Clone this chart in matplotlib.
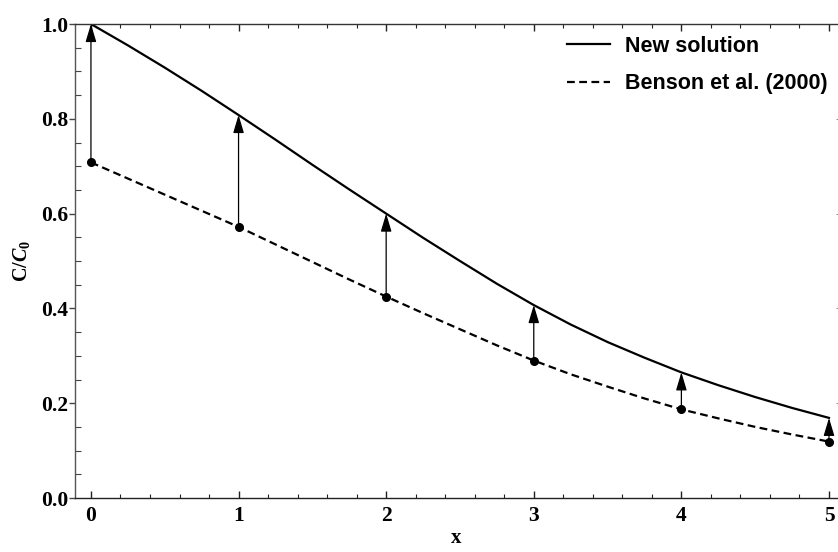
import matplotlib
matplotlib.use("Agg")
import matplotlib.pyplot as plt
from matplotlib.patches import ArrowStyle
from matplotlib.ticker import MultipleLocator

plt.rcParams["mathtext.fontset"] = "custom"
plt.rcParams["mathtext.it"] = "Liberation Serif:italic:bold"
plt.rcParams["mathtext.rm"] = "Liberation Serif:bold"
plt.rcParams["mathtext.bf"] = "Liberation Serif:bold"

# Concentration profiles C/C0 along x
x_curve = [0.0, 0.25, 0.5, 0.75, 1.0, 1.25, 1.5, 1.75, 2.0, 2.25, 2.5,
           2.75, 3.0, 3.25, 3.5, 3.75, 4.0, 4.25, 4.5, 4.75, 5.0]
new_solution = [1.000, 0.955, 0.908, 0.859, 0.808, 0.756, 0.703, 0.651,
                0.600, 0.549, 0.500, 0.452, 0.407, 0.366, 0.329, 0.296,
                0.265, 0.238, 0.213, 0.190, 0.169]
benson_2000 = [0.708, 0.674, 0.640, 0.606, 0.572, 0.535, 0.498, 0.461,
               0.425, 0.390, 0.356, 0.322, 0.290, 0.261, 0.235, 0.210,
               0.187, 0.168, 0.150, 0.134, 0.119]

# Sampled positions where the two solutions are compared
x_marks = [0, 1, 2, 3, 4, 5]
benson_marks = [0.708, 0.572, 0.425, 0.290, 0.187, 0.119]
new_marks = [1.000, 0.808, 0.600, 0.407, 0.265, 0.169]

y_ticks = [0.0, 0.2, 0.4, 0.6, 0.8, 1.0]
legend_labels = ["New solution", "Benson et al. (2000)"]

fig = plt.figure(figsize=(8.38, 5.52), dpi=100)
ax = fig.add_axes([75 / 838, 54 / 552, 763 / 838, 474 / 552])

ax.plot(x_curve, new_solution, color="black", lw=1.6, label=legend_labels[0])
ax.plot(x_curve, benson_2000, color="black", lw=1.6, dashes=(3.5, 2.0),
        label=legend_labels[1])
ax.plot(x_marks, benson_marks, "o", color="black", ms=5.5, zorder=4)

style = ArrowStyle("-|>", head_length=1.1, head_width=0.33)
for xm, y0, y1 in zip(x_marks, benson_marks, new_marks):
    ax.annotate("", xy=(xm, y1), xytext=(xm, y0),
                arrowprops=dict(arrowstyle=style, mutation_scale=10,
                                color="black", lw=0.9, shrinkA=0, shrinkB=0),
                zorder=5)

ax.set_xlim(-0.108, 5.061)
ax.set_ylim(0.0, 1.0)

ax.xaxis.set_major_locator(MultipleLocator(1))
ax.xaxis.set_minor_locator(MultipleLocator(0.2))
ax.yaxis.set_major_locator(MultipleLocator(0.2))
ax.yaxis.set_minor_locator(MultipleLocator(0.05))

ax.spines["right"].set_visible(False)
ax.spines["left"].set_color("#555555")
ax.spines["bottom"].set_color("#222222")
ax.spines["top"].set_color("#333333")
for s in ("left", "bottom", "top"):
    ax.spines[s].set_linewidth(1.0)

tick_font = dict(family="Liberation Serif", weight="bold", size=15.5)
ax.tick_params(axis="x", which="major", direction="in", length=5, width=1,
               top=True, pad=6, colors="#222222")
ax.tick_params(axis="x", which="minor", direction="in", length=3, width=0.8,
               top=True, colors="#222222")
ax.tick_params(axis="y", which="major", direction="out", length=4, width=1,
               pad=1, colors="#444444")
ax.tick_params(axis="y", which="minor", direction="in", length=4, width=0.8,
               colors="#444444")
ax.set_xticks(x_marks)
ax.set_xticklabels([str(v) for v in x_marks], **tick_font, color="black")
ax.set_yticks(y_ticks)
ax.set_yticklabels([f"{v:.1f}" for v in y_ticks], **tick_font, color="black")

# faint tick marks along the open right edge
rax = ax.secondary_yaxis("right")
rax.spines["right"].set_visible(False)
rax.set_yticks(y_ticks[1:-1])
rax.tick_params(direction="in", length=1.5, width=0.6, colors="#777777",
                labelright=False)

ax.set_xlabel("x", family="Liberation Serif", weight="bold", size=15,
              labelpad=1)
ax.set_ylabel(r"C/$C_{\mathrm{0}}$", family="Liberation Serif",
              weight="bold", size=14.5, labelpad=6)

ax.legend(loc="upper left", bbox_to_anchor=(567 / 838, 1 - 36 / 552),
          bbox_transform=fig.transFigure, frameon=False, borderpad=0,
          borderaxespad=0, handlelength=2.0, handletextpad=0.7,
          labelspacing=0.75,
          prop=dict(family="Liberation Sans", weight="bold", size=15.5))

fig.savefig("out.png", dpi=100)
